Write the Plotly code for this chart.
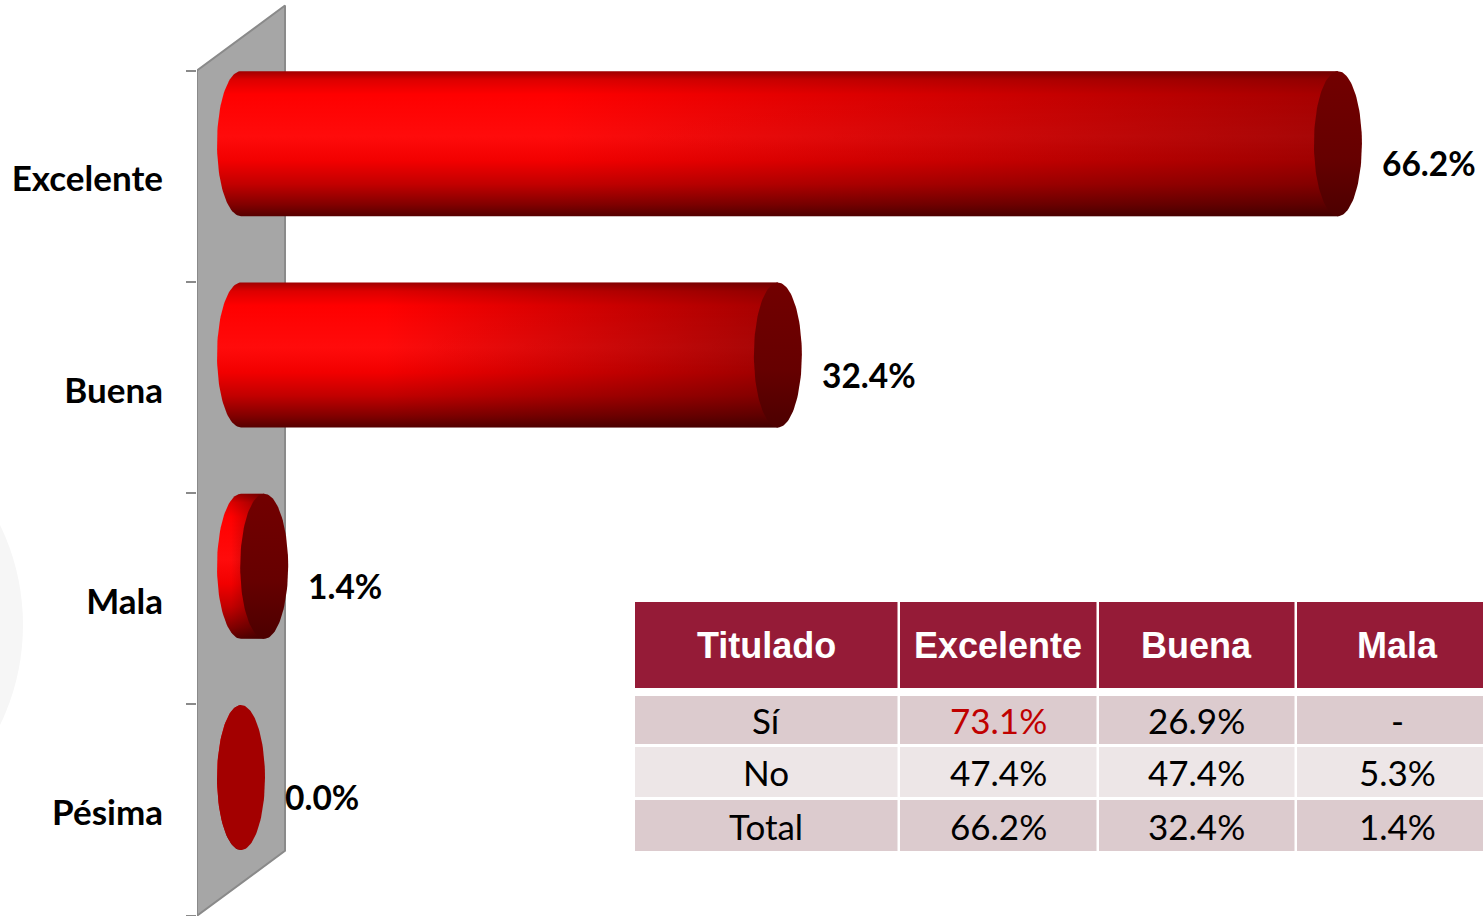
import numpy as np
import plotly.graph_objects as go

# ---- data -------------------------------------------------------------
categories = ["Excelente", "Buena", "Mala", "Pésima"]
values = [66.2, 32.4, 1.4, 0.0]

table_header = ["Titulado", "Excelente", "Buena", "Mala"]
row_labels = ["Sí", "No", "Total"]
col_excelente = [73.1, 47.4, 66.2]
col_buena = [26.9, 47.4, 32.4]
col_mala = [None, 5.3, 1.4]

# ---- geometry / styling -----------------------------------------------
W, H = 1483, 916
AX_LEFT_PX = 197          # left edge of the plotting area (y axis position)
PX_PER_UNIT_X = 16.57     # pixels per percentage point
PX_PER_BAND = 211.3       # pixels per category band
BAND0_PX = 176.2          # pixel row of the first category centre

x_min = -(241 - AX_LEFT_PX) / PX_PER_UNIT_X
x_max = x_min + (W - AX_LEFT_PX) / PX_PER_UNIT_X
y_top = -BAND0_PX / PX_PER_BAND
y_bot = (H - BAND0_PX) / PX_PER_BAND

RX = 24 / PX_PER_UNIT_X          # horizontal radius of the cylinder caps
RY = 72.5 / PX_PER_BAND          # vertical radius of the cylinder caps
LIFT = -32.5 / PX_PER_BAND       # cylinders sit a little above the band centre
WALL_DX = 88 / PX_PER_UNIT_X     # depth of the 3-D side wall
WALL_DY = 65 / PX_PER_BAND

BODY_SCALE = [
    [0.00, "#a00000"],
    [0.06, "#dd0000"],
    [0.16, "#ff0000"],
    [0.45, "#ff0b0b"],
    [0.62, "#f20000"],
    [0.78, "#c20000"],
    [0.92, "#820000"],
    [1.00, "#560000"],
]
SHADE_SCALE = [
    [0.00, "rgba(40,0,0,0)"],
    [0.30, "rgba(40,0,0,0)"],
    [1.00, "rgba(40,0,0,0.42)"],
]
CAP_SCALE = [[0, "#720000"], [0.6, "#660000"], [1, "#4c0000"]]
FLAT_CAP = "#a30000"

fig = go.Figure()

# faint decorative disc in the background
fig.add_shape(
    type="circle", xref="paper", yref="paper", layer="below",
    x0=-435 / W, x1=23 / W, y0=1 - 854 / H, y1=1 - 396 / H,
    fillcolor="#f6f6f6", line=dict(width=0),
)

# 3-D side wall behind the cylinders
wx = [x_min, x_min + WALL_DX, x_min + WALL_DX, x_min, x_min]
wy = [-0.5, -0.5 - WALL_DY, len(categories) - 0.5 - WALL_DY, len(categories) - 0.5, -0.5]
fig.add_trace(go.Scatter(
    x=wx, y=wy, mode="lines", fill="toself", fillcolor="#a6a6a6",
    line=dict(color="#8a8a8a", width=2), hoverinfo="skip", showlegend=False,
))

t_left = np.linspace(np.pi / 2, 3 * np.pi / 2, 60)
t_full = np.linspace(0, 2 * np.pi, 120)

for i, v in enumerate(values):
    cy = i + LIFT
    # body: left half-ellipse + straight sides up to the value
    bx = list(RX * np.cos(t_left)) + [v, v, RX * np.cos(t_left[0])]
    by = list(cy + RY * np.sin(t_left)) + [cy - RY, cy + RY, cy + RY * np.sin(t_left[0])]
    fig.add_trace(go.Scatter(
        x=bx, y=by, mode="lines", fill="toself", line=dict(width=0),
        fillgradient=dict(type="vertical", colorscale=BODY_SCALE,
                          start=cy - RY, stop=cy + RY),
        hoverinfo="skip", showlegend=False,
    ))
    if v > 0:
        fig.add_trace(go.Scatter(
            x=bx, y=by, mode="lines", fill="toself", line=dict(width=0),
            fillgradient=dict(type="horizontal", colorscale=SHADE_SCALE,
                              start=-RX, stop=v),
            hoverinfo="skip", showlegend=False,
        ))
    # end cap at the value
    cx_ = v + RX * np.cos(t_full)
    cy_ = cy + RY * np.sin(t_full)
    if v > 0:
        fig.add_trace(go.Scatter(
            x=cx_, y=cy_, mode="lines", fill="toself", line=dict(width=0),
            fillgradient=dict(type="vertical", colorscale=CAP_SCALE,
                              start=cy - RY, stop=cy + RY),
            hoverinfo="skip", showlegend=False,
        ))
    else:
        fig.add_trace(go.Scatter(
            x=cx_, y=cy_, mode="lines", fill="toself", fillcolor=FLAT_CAP,
            line=dict(width=0), hoverinfo="skip", showlegend=False,
        ))
    fig.add_annotation(
        x=v + RX, y=i, xref="x", yref="y", text=f"{v:.1f}%",
        showarrow=False, xanchor="left", yanchor="middle",
        xshift=18, yshift=13,
        font=dict(family="Lato", size=33.5, color="#000000", weight="bold"),
    )

# ---- summary table ------------------------------------------------------
def fmt(vals):
    return ["-" if x is None else f"{x:.1f}%" for x in vals]

table_columns = [row_labels, fmt(col_excelente), fmt(col_buena), fmt(col_mala)]

TABLE_LEFT, TABLE_TOP = 635, 602
COL_W = [265, 199, 198, 204]          # column pitch incl. white separator
COL_SEP = 2.5
ROW_H = [86, 48, 50, 51]              # header, then one per body row
ROW_GAP = [0, 8, 3, 3]                # white space above each row
HEADER_FILL = "#951b37"
BODY_FILL = ["#dccbce", "#ede6e7", "#dccbce"]
HIGHLIGHT = ("Excelente", "Sí", "#c00000")


def px_x(p):
    return p / W


def px_y(p):
    return 1 - p / H


col_left = TABLE_LEFT + np.concatenate([[0], np.cumsum(COL_W)[:-1]])
row_top = []
y_cursor = TABLE_TOP
for h, g in zip(ROW_H, ROW_GAP):
    y_cursor += g
    row_top.append(y_cursor)
    y_cursor += h

for r in range(len(ROW_H)):
    y0, y1 = row_top[r], row_top[r] + ROW_H[r]
    fill = HEADER_FILL if r == 0 else BODY_FILL[r - 1]
    for c in range(len(table_header)):
        x0 = col_left[c]
        x1 = x0 + COL_W[c] - COL_SEP
        fig.add_shape(type="rect", xref="paper", yref="paper", layer="above",
                      x0=px_x(x0), x1=px_x(x1), y0=px_y(y1), y1=px_y(y0),
                      fillcolor=fill, line=dict(width=0))
        if r == 0:
            text = f"<b>{table_header[c]}</b>"
            font = dict(family="Liberation Sans, Arial", size=36, color="white")
        else:
            text = table_columns[c][r - 1]
            color = "#000000"
            if table_header[c] == HIGHLIGHT[0] and row_labels[r - 1] == HIGHLIGHT[1]:
                color = HIGHLIGHT[2]
            font = dict(family="Lato", size=35, color=color)
        fig.add_annotation(
            x=px_x((x0 + x1) / 2), y=px_y((y0 + y1) / 2),
            xref="paper", yref="paper", text=text, showarrow=False,
            xanchor="center", yanchor="middle", font=font,
        )

fig.update_layout(
    width=W, height=H, margin=dict(l=0, r=0, t=0, b=0),
    paper_bgcolor="white", plot_bgcolor="rgba(0,0,0,0)",
    showlegend=False,
    xaxis=dict(domain=[AX_LEFT_PX / W, 1.0], range=[x_min, x_max],
               visible=False, fixedrange=True),
    yaxis=dict(
        range=[y_bot, y_top], showgrid=False, zeroline=False, showline=False,
        tickmode="array", tickvals=list(range(len(categories))),
        ticktext=categories, ticks="outside", ticklen=26,
        tickcolor="rgba(0,0,0,0)", ticklabelshift=-3,
        tickfont=dict(family="Lato", size=35, color="#000000", weight="bold"),
        minor=dict(tickmode="array",
                   tickvals=[k - 0.5 for k in range(len(categories) + 1)],
                   ticks="outside", ticklen=10, tickcolor="#8a8a8a", tickwidth=1.5),
        fixedrange=True,
    ),
)

fig.write_html("out.html")
